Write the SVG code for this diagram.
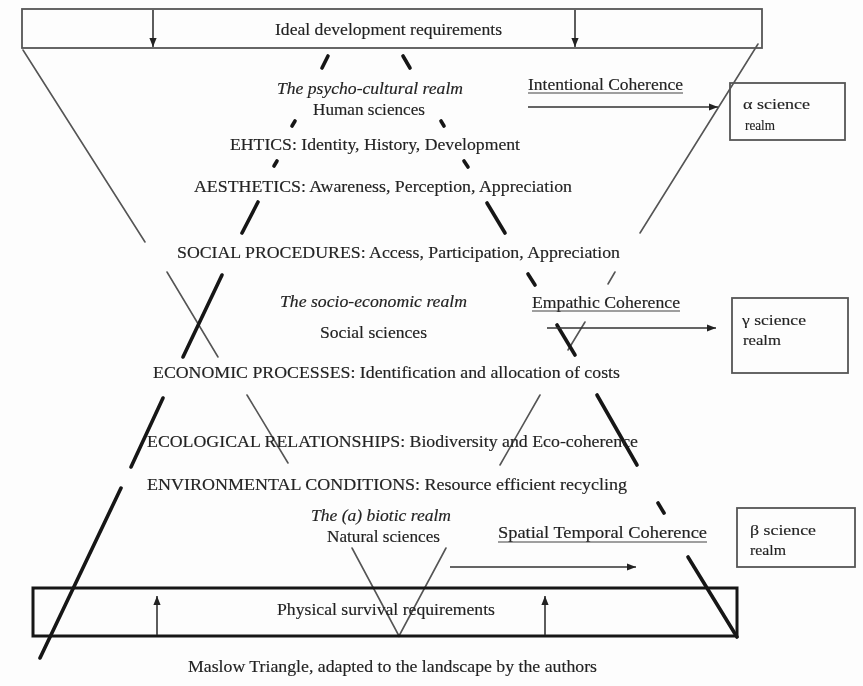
<svg xmlns="http://www.w3.org/2000/svg" width="863" height="686" viewBox="0 0 863 686">
  <style>
    .t { font-family: "Liberation Serif", "Times New Roman", serif; font-size: 16px; fill: #222; stroke: #222; stroke-width: 0.15; }
    .it { font-style: italic; }
    .sm { font-size: 15px; }
    .box { fill: none; stroke: #555; stroke-width: 1.8; }
    .boxB { fill: none; stroke: #151515; stroke-width: 3; }
    .thin { stroke: #555; stroke-width: 1.6; fill: none; stroke-linecap: round; }
    .thick { stroke: #151515; stroke-width: 3.6; fill: none; stroke-linecap: round; }
    .arr { stroke: #333; stroke-width: 1.6; fill: none; }
    .ul { stroke: #444; stroke-width: 1.1; }
  </style>
  <defs>
    <marker id="head" viewBox="0 0 10 10" refX="10" refY="5" markerWidth="9" markerHeight="9" markerUnits="userSpaceOnUse" orient="auto">
      <path d="M0,1 L10,5 L0,9 Z" fill="#222"/>
    </marker>
    <filter id="soft" x="-2%" y="-2%" width="104%" height="104%">
      <feGaussianBlur stdDeviation="0.55"/>
    </filter>
  </defs>
  <rect width="863" height="686" fill="#fdfdfd"/>

  <g filter="url(#soft)">
    <!-- inverted frame (thin) and Maslow triangle (thick), broken around the text rows -->
    <g id="frame-lines">
      <line class="thin" x1="23" y1="50" x2="145" y2="242"/>
      <line class="thin" x1="167" y1="272" x2="218" y2="357"/>
      <line class="thin" x1="247" y1="395" x2="288" y2="463"/>
      <line class="thin" x1="758" y1="44" x2="640" y2="233"/>
      <line class="thin" x1="615" y1="272" x2="608" y2="284"/>
      <line class="thin" x1="585" y1="322" x2="568" y2="350"/>
      <line class="thin" x1="540" y1="395" x2="500" y2="465"/>
      <polyline class="thin" points="352,548 399,636 446,548"/>
    </g>
    <g id="maslow-lines">
      <line class="thick" x1="328" y1="56" x2="322" y2="68"/>
      <line class="thick" x1="295" y1="121" x2="292" y2="126"/>
      <line class="thick" x1="277" y1="161" x2="274" y2="166"/>
      <line class="thick" x1="258" y1="202" x2="242" y2="233"/>
      <line class="thick" x1="222" y1="275" x2="183" y2="357"/>
      <line class="thick" x1="163" y1="398" x2="131" y2="467"/>
      <line class="thick" x1="121" y1="488" x2="40" y2="658"/>
      <line class="thick" x1="403" y1="56" x2="410" y2="68"/>
      <line class="thick" x1="441" y1="121" x2="444" y2="126"/>
      <line class="thick" x1="464" y1="161" x2="468" y2="167"/>
      <line class="thick" x1="487" y1="203" x2="505" y2="233"/>
      <line class="thick" x1="528" y1="274" x2="535" y2="285"/>
      <line class="thick" x1="557" y1="325" x2="575" y2="355"/>
      <line class="thick" x1="597" y1="395" x2="637" y2="465"/>
      <line class="thick" x1="658" y1="503" x2="664" y2="513"/>
      <line class="thick" x1="688" y1="557" x2="737" y2="637"/>
    </g>

    <!-- requirement bars -->
    <g id="ideal">
      <rect class="box" x="22" y="9" width="740" height="39"/>
      <text class="t" x="275" y="35" textLength="227" lengthAdjust="spacingAndGlyphs">Ideal development requirements</text>
    </g>
    <g id="physical">
      <rect class="boxB" x="33" y="588" width="704" height="48"/>
      <text class="t" x="277" y="615" textLength="218" lengthAdjust="spacingAndGlyphs">Physical survival requirements</text>
    </g>

    <!-- levels -->
    <g id="psycho-cultural">
      <text class="t it" x="277" y="94" textLength="186" lengthAdjust="spacingAndGlyphs">The psycho-cultural realm</text>
      <text class="t" x="313" y="115" textLength="112" lengthAdjust="spacingAndGlyphs">Human sciences</text>
    </g>
    <g id="ethics">
      <text class="t" x="230" y="150" textLength="290" lengthAdjust="spacingAndGlyphs">EHTICS: Identity, History, Development</text>
    </g>
    <g id="aesthetics">
      <text class="t" x="194" y="192" textLength="378" lengthAdjust="spacingAndGlyphs">AESTHETICS: Awareness, Perception, Appreciation</text>
    </g>
    <g id="social">
      <text class="t" x="177" y="258" textLength="443" lengthAdjust="spacingAndGlyphs">SOCIAL PROCEDURES: Access, Participation, Appreciation</text>
    </g>
    <g id="socio-economic">
      <text class="t it" x="280" y="307" textLength="187" lengthAdjust="spacingAndGlyphs">The socio-economic realm</text>
      <text class="t" x="320" y="338" textLength="107" lengthAdjust="spacingAndGlyphs">Social sciences</text>
    </g>
    <g id="economic">
      <text class="t" x="153" y="378" textLength="467" lengthAdjust="spacingAndGlyphs">ECONOMIC PROCESSES: Identification and allocation of costs</text>
    </g>
    <g id="ecological">
      <text class="t" x="147" y="447" textLength="491" lengthAdjust="spacingAndGlyphs">ECOLOGICAL RELATIONSHIPS: Biodiversity and Eco-coherence</text>
    </g>
    <g id="environmental">
      <text class="t" x="147" y="490" textLength="480" lengthAdjust="spacingAndGlyphs">ENVIRONMENTAL CONDITIONS: Resource efficient recycling</text>
    </g>
    <g id="biotic">
      <text class="t it" x="311" y="521" textLength="140" lengthAdjust="spacingAndGlyphs">The (a) biotic realm</text>
      <text class="t" x="327" y="542" textLength="113" lengthAdjust="spacingAndGlyphs">Natural sciences</text>
    </g>

    <!-- coherence labels -->
    <g id="intentional">
      <text class="t" x="528" y="90" textLength="155" lengthAdjust="spacingAndGlyphs">Intentional Coherence</text>
      <line class="ul" x1="528" y1="93" x2="683" y2="93"/>
    </g>
    <g id="empathic">
      <text class="t" x="532" y="308" textLength="148" lengthAdjust="spacingAndGlyphs">Empathic Coherence</text>
      <line class="ul" x1="532" y1="311" x2="680" y2="311"/>
    </g>
    <g id="spatial">
      <text class="t" x="498" y="538" textLength="209" lengthAdjust="spacingAndGlyphs">Spatial Temporal Coherence</text>
      <line class="ul" x1="498" y1="542" x2="707" y2="542"/>
    </g>

    <!-- science realms -->
    <g id="alpha">
      <rect class="box" x="730" y="83" width="115" height="57"/>
      <text class="t sm" x="743" y="109" textLength="67" lengthAdjust="spacingAndGlyphs">α science</text>
      <text class="t sm" x="745" y="130" textLength="30" lengthAdjust="spacingAndGlyphs">realm</text>
    </g>
    <g id="gamma">
      <rect class="box" x="732" y="298" width="116" height="75"/>
      <text class="t sm" x="742" y="325" textLength="64" lengthAdjust="spacingAndGlyphs">γ science</text>
      <text class="t sm" x="743" y="345" textLength="38" lengthAdjust="spacingAndGlyphs">realm</text>
    </g>
    <g id="beta">
      <rect class="box" x="737" y="508" width="118" height="59"/>
      <text class="t sm" x="750" y="535" textLength="66" lengthAdjust="spacingAndGlyphs">β science</text>
      <text class="t sm" x="750" y="555" textLength="36" lengthAdjust="spacingAndGlyphs">realm</text>
    </g>

    <g id="caption">
      <text class="t" x="188" y="672" textLength="409" lengthAdjust="spacingAndGlyphs">Maslow Triangle, adapted to the landscape by the authors</text>
    </g>

    <!-- arrows -->
    <g id="connectors">
      <line class="arr" x1="153" y1="10" x2="153" y2="47" marker-end="url(#head)"/>
      <line class="arr" x1="575" y1="10" x2="575" y2="47" marker-end="url(#head)"/>
      <line class="arr" x1="157" y1="635" x2="157" y2="596" marker-end="url(#head)"/>
      <line class="arr" x1="545" y1="635" x2="545" y2="596" marker-end="url(#head)"/>
      <line class="arr" x1="528" y1="107" x2="718" y2="107" marker-end="url(#head)"/>
      <line class="arr" x1="547" y1="328" x2="716" y2="328" marker-end="url(#head)"/>
      <line class="arr" x1="450" y1="567" x2="636" y2="567" marker-end="url(#head)"/>
    </g>
  </g>
</svg>
